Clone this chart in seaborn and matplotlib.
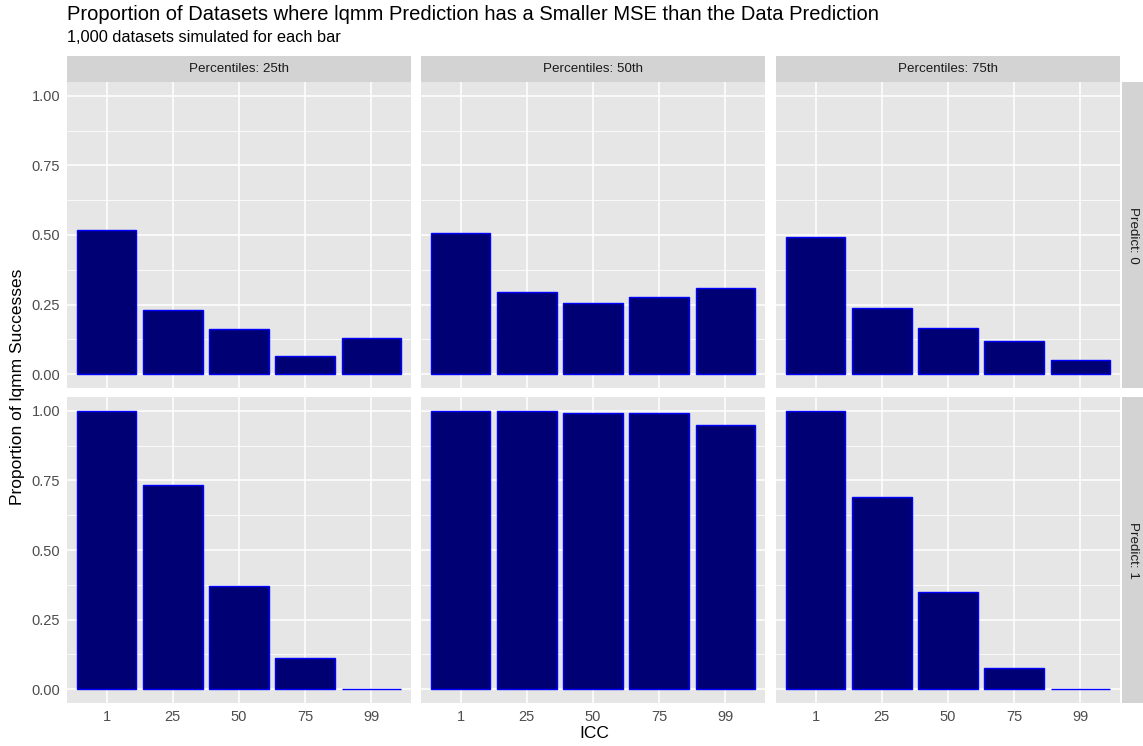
import matplotlib
matplotlib.use("Agg")
import matplotlib.pyplot as plt
import seaborn as sns
import pandas as pd
from matplotlib.ticker import MultipleLocator, FormatStrFormatter

icc = ["1", "25", "50", "75", "99"]
percentiles = ["25th", "50th", "75th"]
predicts = ["0", "1"]

# Predict: 0
p0_25 = [0.519, 0.230, 0.161, 0.064, 0.129]
p0_50 = [0.508, 0.294, 0.255, 0.278, 0.310]
p0_75 = [0.493, 0.236, 0.167, 0.118, 0.050]
# Predict: 1
p1_25 = [1.000, 0.735, 0.369, 0.113, 0.002]
p1_50 = [1.000, 1.000, 0.994, 0.992, 0.951]
p1_75 = [1.000, 0.691, 0.350, 0.077, 0.002]

values = {("0", "25th"): p0_25, ("0", "50th"): p0_50, ("0", "75th"): p0_75,
          ("1", "25th"): p1_25, ("1", "50th"): p1_50, ("1", "75th"): p1_75}

rows = []
for (pr, pc), vals in values.items():
    for c, v in zip(icc, vals):
        rows.append({"Predict": pr, "Percentiles": pc, "ICC": c, "prop": v})
df = pd.DataFrame(rows)

sns.set_style("white")
plt.rcParams["font.family"] = ["Liberation Sans", "DejaVu Sans"]

W, H = 1143, 746
fig = plt.figure(figsize=(W / 100, H / 100), dpi=100)

panel_x = [67, 421, 776]
panel_w = 344
panel_y = [82, 397]
panel_h = 306

bg = "#E6E6E6"
strip_bg = "#D3D3D3"
tick_col = "#4D4D4D"

def fx(x):
    return x / W

def fy(y):
    return 1 - y / H

for r, pr in enumerate(predicts):
    for c, pc in enumerate(percentiles):
        ax = fig.add_axes([fx(panel_x[c]), fy(panel_y[r] + panel_h), panel_w / W, panel_h / H])
        sub = df[(df.Predict == pr) & (df.Percentiles == pc)]
        ax.set_facecolor(bg)
        ax.set_axisbelow(True)
        sns.barplot(data=sub, x="ICC", y="prop", order=icc, color="#000075",
                    saturation=1, edgecolor="#0000FF", linewidth=1.0, width=0.9, ax=ax,
                    errorbar=None)
        ax.set_xlim(-0.6, 4.6)
        ax.set_ylim(-0.05, 1.05)
        ax.yaxis.set_major_locator(MultipleLocator(0.25))
        ax.yaxis.set_minor_locator(MultipleLocator(0.125))
        ax.yaxis.set_major_formatter(FormatStrFormatter("%.2f"))
        ax.grid(True, which="major", color="white", linewidth=1.1)
        ax.grid(True, which="minor", axis="y", color="white", linewidth=0.55)
        for s in ax.spines.values():
            s.set_visible(False)
        ax.set_xlabel("")
        ax.set_ylabel("")
        ax.tick_params(axis="both", which="major", length=3, width=0.8, color="#333333",
                       labelcolor=tick_col, labelsize=10.5, pad=2)
        ax.tick_params(axis="y", which="minor", length=0)
        if c != 0:
            ax.tick_params(axis="y", which="major", length=0, labelleft=False)
        if r == 0:
            ax.tick_params(axis="x", length=0, labelbottom=False)
        # strips
        if r == 0:
            sax = fig.add_axes([fx(panel_x[c]), fy(82), panel_w / W, 26 / H])
            sax.set_facecolor(strip_bg)
            sax.set_xticks([]); sax.set_yticks([])
            for s in sax.spines.values():
                s.set_visible(False)
            sax.text(0.5, 0.5, f"Percentiles: {pc}", ha="center", va="center",
                     fontsize=9.6, color="#1A1A1A", transform=sax.transAxes)
        if c == 2:
            rax = fig.add_axes([fx(1122), fy(panel_y[r] + panel_h), 21 / W, panel_h / H])
            rax.set_facecolor(strip_bg)
            rax.set_xticks([]); rax.set_yticks([])
            for s in rax.spines.values():
                s.set_visible(False)
            rax.text(0.5, 0.5, f"Predict: {pr}", ha="center", va="center", rotation=-90,
                     fontsize=9.6, color="#1A1A1A", transform=rax.transAxes)

fig.text(fx(67), fy(14), "Proportion of Datasets where lqmm Prediction has a Smaller MSE than the Data Prediction",
         ha="left", va="center", fontsize=14.5, color="black")
fig.text(fx(67), fy(38), "1,000 datasets simulated for each bar",
         ha="left", va="center", fontsize=11.8, color="black")
fig.text(fx(594), fy(733), "ICC", ha="center", va="center", fontsize=12.5, color="black")
fig.text(fx(18), fy(387), "Proportion of lqmm Successes", ha="center", va="center",
         rotation=90, fontsize=12.5, color="black")

fig.savefig("out.png", dpi=100, facecolor="white")
